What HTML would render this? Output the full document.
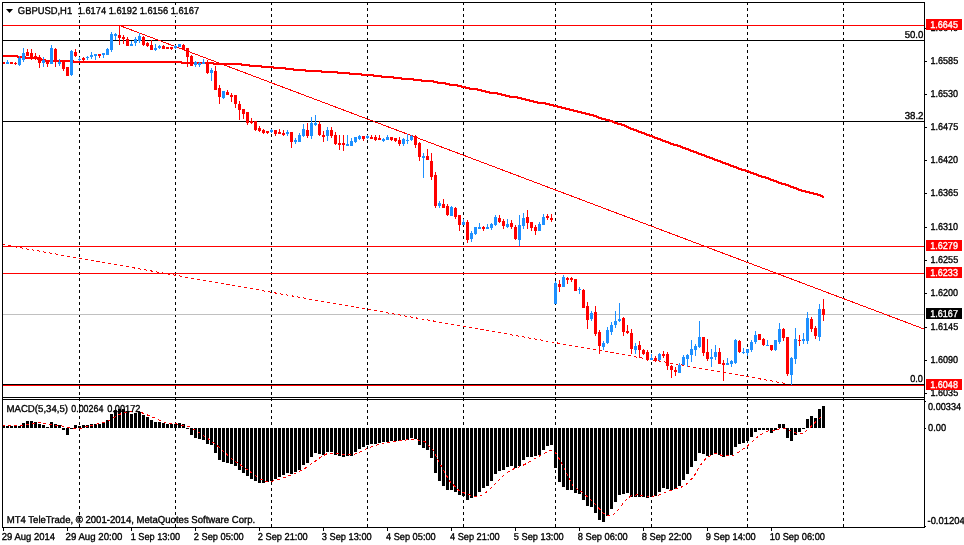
<!DOCTYPE html>
<html><head><meta charset="utf-8"><title>GBPUSD,H1</title>
<style>
html,body{margin:0;padding:0;background:#fff;}
body{width:964px;height:545px;overflow:hidden;}
svg{display:block;}
text{font-family:"Liberation Sans",sans-serif;font-size:9.2px;fill:#000;text-rendering:geometricPrecision;}
.c{shape-rendering:crispEdges;}
</style></head><body>
<svg width="964" height="545" viewBox="0 0 964 545">
<rect width="964" height="545" fill="#fff"/>
<g class="c">
<line x1="79.5" y1="2" x2="79.5" y2="527" stroke="#000" stroke-width="1" stroke-dasharray="3 3"/>
<line x1="175.5" y1="2" x2="175.5" y2="527" stroke="#000" stroke-width="1" stroke-dasharray="3 3"/>
<line x1="271.5" y1="2" x2="271.5" y2="527" stroke="#000" stroke-width="1" stroke-dasharray="3 3"/>
<line x1="367.5" y1="2" x2="367.5" y2="527" stroke="#000" stroke-width="1" stroke-dasharray="3 3"/>
<line x1="463.5" y1="2" x2="463.5" y2="527" stroke="#000" stroke-width="1" stroke-dasharray="3 3"/>
<line x1="555.5" y1="2" x2="555.5" y2="527" stroke="#000" stroke-width="1" stroke-dasharray="3 3"/>
<line x1="651.5" y1="2" x2="651.5" y2="527" stroke="#000" stroke-width="1" stroke-dasharray="3 3"/>
<line x1="747.5" y1="2" x2="747.5" y2="527" stroke="#000" stroke-width="1" stroke-dasharray="3 3"/>
<line x1="843.5" y1="2" x2="843.5" y2="527" stroke="#000" stroke-width="1" stroke-dasharray="3 3"/>
<rect x="2" y="25" width="922" height="1" fill="#ff0000"/>
<rect x="2" y="40" width="922" height="1" fill="#000"/>
<rect x="2" y="121" width="922" height="1" fill="#000"/>
<rect x="2" y="246" width="922" height="1" fill="#ff0000"/>
<rect x="2" y="273" width="922" height="1" fill="#ff0000"/>
<rect x="2" y="314" width="922" height="1" fill="#c0c0c0"/>
<rect x="2" y="384" width="922" height="1" fill="#000"/>
<rect x="2" y="385" width="922" height="1" fill="#ff0000"/>
</g>
<polyline points="2,56 3.5,56 7.5,56 11.5,56 15.5,56 19.5,57 23.5,57 27.5,58 31.5,58 35.5,58 39.5,59 43.5,60 47.5,61 51.5,61 55.5,61 59.5,61 63.5,61 67.5,61 71.5,61 75.5,62 79.5,62 83.5,62 87.5,62 91.5,62 95.5,62 99.5,62 103.5,62 107.5,62 111.5,62 115.5,62 119.5,62 123.5,62 127.5,62 131.5,62 135.5,62 139.5,62 143.5,62 147.5,62 151.5,62 155.5,62 159.5,62 163.5,62 167.5,62 171.5,62 175.5,62 179.5,62 183.5,63 187.5,63 191.5,63 195.5,63 199.5,63 203.5,63 207.5,63 211.5,63 215.5,64 219.5,64 223.5,64 227.5,64 231.5,64 235.5,64 239.5,64 243.5,65 247.5,65 251.5,66 255.5,66 259.5,66 263.5,67 267.5,67 271.5,67 275.5,68 279.5,68 283.5,68 287.5,69 291.5,69 295.5,70 299.5,70 303.5,70 307.5,71 311.5,71 315.5,71 319.5,71 323.5,72 327.5,72 331.5,72 335.5,72 339.5,73 343.5,73 347.5,73 351.5,74 355.5,74 359.5,74 363.5,75 367.5,75 371.5,75 375.5,76 379.5,76 383.5,77 387.5,77 391.5,77 395.5,78 399.5,78 403.5,79 407.5,79 411.5,79 415.5,80 419.5,80 423.5,81 427.5,81 431.5,81 435.5,82 439.5,83 443.5,83 447.5,84 451.5,85 455.5,85 459.5,86 463.5,87 467.5,88 471.5,89 475.5,89 479.5,90 483.5,91 487.5,92 491.5,93 495.5,93 499.5,94 503.5,95 507.5,96 511.5,97 515.5,97 519.5,98 523.5,99 527.5,100 531.5,101 535.5,102 539.5,103 543.5,103 547.5,104 551.5,105 555.5,106 559.5,107 563.5,108 567.5,109 571.5,110 575.5,111 579.5,112 583.5,113 587.5,114 591.5,115 595.5,116 599.5,118 603.5,119 607.5,120 611.5,121 615.5,123 619.5,124 623.5,125 627.5,127 631.5,129 635.5,130 639.5,132 643.5,133 647.5,135 651.5,136 655.5,138 659.5,139 663.5,141 667.5,142 671.5,144 675.5,145 679.5,146 683.5,148 687.5,149 691.5,151 695.5,152 699.5,154 703.5,155 707.5,157 711.5,158 715.5,160 719.5,161 723.5,163 727.5,164 731.5,166 735.5,167 739.5,169 743.5,170 747.5,171 751.5,173 755.5,174 759.5,176 763.5,177 767.5,178 771.5,180 775.5,181 779.5,183 783.5,184 787.5,185 791.5,187 795.5,188 799.5,190 803.5,191 807.5,192 811.5,193 815.5,194 819.5,195 823.5,197 824.4,197" fill="none" stroke="#ff0000" stroke-width="2" class="c"/>
<line x1="119.5" y1="25.5" x2="924" y2="329" stroke="#ff0000" stroke-width="1" class="c"/>
<line x1="2" y1="244.5" x2="787" y2="383.7" stroke="#ff0000" stroke-width="1" stroke-dasharray="3 3" class="c"/>
<g class="c">
<rect x="2" y="62" width="3" height="2" fill="#ff0000"/>
<rect x="7" y="60" width="1" height="4" fill="#1e90ff"/>
<rect x="6" y="62" width="3" height="2" fill="#1e90ff"/>
<rect x="10" y="62" width="3" height="2" fill="#ff0000"/>
<rect x="15" y="62" width="1" height="3" fill="#ff0000"/>
<rect x="14" y="63" width="3" height="1" fill="#ff0000"/>
<rect x="19" y="56" width="1" height="10" fill="#1e90ff"/>
<rect x="18" y="58" width="3" height="7" fill="#1e90ff"/>
<rect x="23" y="48" width="1" height="14" fill="#1e90ff"/>
<rect x="22" y="53" width="3" height="7" fill="#1e90ff"/>
<rect x="27" y="49" width="1" height="7" fill="#ff0000"/>
<rect x="26" y="52" width="3" height="4" fill="#ff0000"/>
<rect x="31" y="49" width="1" height="11" fill="#ff0000"/>
<rect x="30" y="53" width="3" height="4" fill="#ff0000"/>
<rect x="35" y="53" width="1" height="7" fill="#ff0000"/>
<rect x="34" y="56" width="3" height="3" fill="#ff0000"/>
<rect x="39" y="55" width="1" height="13" fill="#ff0000"/>
<rect x="38" y="57" width="3" height="6" fill="#ff0000"/>
<rect x="43" y="57" width="1" height="10" fill="#1e90ff"/>
<rect x="42" y="60" width="3" height="3" fill="#1e90ff"/>
<rect x="47" y="60" width="1" height="7" fill="#ff0000"/>
<rect x="46" y="60" width="3" height="4" fill="#ff0000"/>
<rect x="51" y="45" width="1" height="19" fill="#1e90ff"/>
<rect x="50" y="48" width="3" height="16" fill="#1e90ff"/>
<rect x="55" y="48" width="1" height="19" fill="#ff0000"/>
<rect x="54" y="49" width="3" height="13" fill="#ff0000"/>
<rect x="59" y="59" width="1" height="7" fill="#1e90ff"/>
<rect x="58" y="62" width="3" height="2" fill="#1e90ff"/>
<rect x="63" y="62" width="1" height="9" fill="#ff0000"/>
<rect x="62" y="62" width="3" height="7" fill="#ff0000"/>
<rect x="66" y="67" width="3" height="9" fill="#ff0000"/>
<rect x="71" y="50" width="1" height="26" fill="#1e90ff"/>
<rect x="70" y="51" width="3" height="24" fill="#1e90ff"/>
<rect x="75" y="49" width="1" height="8" fill="#ff0000"/>
<rect x="74" y="52" width="3" height="4" fill="#ff0000"/>
<rect x="79" y="57" width="1" height="4" fill="#1e90ff"/>
<rect x="78" y="59" width="3" height="1" fill="#1e90ff"/>
<rect x="83" y="57" width="1" height="4" fill="#ff0000"/>
<rect x="82" y="58" width="3" height="2" fill="#ff0000"/>
<rect x="87" y="56" width="1" height="4" fill="#1e90ff"/>
<rect x="86" y="57" width="3" height="1" fill="#1e90ff"/>
<rect x="91" y="52" width="1" height="7" fill="#1e90ff"/>
<rect x="90" y="55" width="3" height="2" fill="#1e90ff"/>
<rect x="95" y="54" width="1" height="6" fill="#1e90ff"/>
<rect x="94" y="54" width="3" height="2" fill="#1e90ff"/>
<rect x="99" y="54" width="1" height="4" fill="#ff0000"/>
<rect x="98" y="54" width="3" height="2" fill="#ff0000"/>
<rect x="103" y="53" width="1" height="5" fill="#1e90ff"/>
<rect x="102" y="53" width="3" height="2" fill="#1e90ff"/>
<rect x="107" y="48" width="1" height="7" fill="#1e90ff"/>
<rect x="106" y="49" width="3" height="6" fill="#1e90ff"/>
<rect x="111" y="32" width="1" height="20" fill="#1e90ff"/>
<rect x="110" y="34" width="3" height="16" fill="#1e90ff"/>
<rect x="115" y="33" width="1" height="7" fill="#1e90ff"/>
<rect x="114" y="34" width="3" height="2" fill="#1e90ff"/>
<rect x="119" y="26" width="1" height="19" fill="#ff0000"/>
<rect x="118" y="35" width="3" height="3" fill="#ff0000"/>
<rect x="123" y="35" width="1" height="9" fill="#ff0000"/>
<rect x="122" y="37" width="3" height="2" fill="#ff0000"/>
<rect x="127" y="37" width="1" height="9" fill="#ff0000"/>
<rect x="126" y="39" width="3" height="7" fill="#ff0000"/>
<rect x="131" y="41" width="1" height="5" fill="#1e90ff"/>
<rect x="130" y="44" width="3" height="2" fill="#1e90ff"/>
<rect x="135" y="37" width="1" height="9" fill="#1e90ff"/>
<rect x="134" y="39" width="3" height="4" fill="#1e90ff"/>
<rect x="139" y="33" width="1" height="10" fill="#1e90ff"/>
<rect x="138" y="36" width="3" height="5" fill="#1e90ff"/>
<rect x="143" y="36" width="1" height="10" fill="#ff0000"/>
<rect x="142" y="37" width="3" height="8" fill="#ff0000"/>
<rect x="147" y="42" width="1" height="5" fill="#ff0000"/>
<rect x="146" y="43" width="3" height="3" fill="#ff0000"/>
<rect x="151" y="40" width="1" height="10" fill="#ff0000"/>
<rect x="150" y="45" width="3" height="5" fill="#ff0000"/>
<rect x="155" y="44" width="1" height="7" fill="#1e90ff"/>
<rect x="154" y="48" width="3" height="2" fill="#1e90ff"/>
<rect x="159" y="45" width="1" height="4" fill="#1e90ff"/>
<rect x="158" y="46" width="3" height="2" fill="#1e90ff"/>
<rect x="163" y="45" width="1" height="4" fill="#ff0000"/>
<rect x="162" y="46" width="3" height="3" fill="#ff0000"/>
<rect x="166" y="47" width="3" height="2" fill="#ff0000"/>
<rect x="171" y="47" width="1" height="3" fill="#ff0000"/>
<rect x="170" y="47" width="3" height="2" fill="#ff0000"/>
<rect x="175" y="45" width="1" height="4" fill="#1e90ff"/>
<rect x="174" y="46" width="3" height="2" fill="#1e90ff"/>
<rect x="178" y="44" width="3" height="3" fill="#1e90ff"/>
<rect x="183" y="44" width="1" height="6" fill="#ff0000"/>
<rect x="182" y="45" width="3" height="4" fill="#ff0000"/>
<rect x="187" y="48" width="1" height="19" fill="#ff0000"/>
<rect x="186" y="48" width="3" height="9" fill="#ff0000"/>
<rect x="191" y="55" width="1" height="11" fill="#ff0000"/>
<rect x="190" y="56" width="3" height="10" fill="#ff0000"/>
<rect x="195" y="61" width="1" height="6" fill="#1e90ff"/>
<rect x="194" y="62" width="3" height="3" fill="#1e90ff"/>
<rect x="199" y="62" width="1" height="5" fill="#1e90ff"/>
<rect x="198" y="63" width="3" height="2" fill="#1e90ff"/>
<rect x="203" y="59" width="1" height="5" fill="#1e90ff"/>
<rect x="202" y="62" width="3" height="2" fill="#1e90ff"/>
<rect x="207" y="60" width="1" height="14" fill="#ff0000"/>
<rect x="206" y="63" width="3" height="10" fill="#ff0000"/>
<rect x="211" y="68" width="1" height="13" fill="#1e90ff"/>
<rect x="210" y="70" width="3" height="3" fill="#1e90ff"/>
<rect x="215" y="66" width="1" height="24" fill="#ff0000"/>
<rect x="214" y="71" width="3" height="19" fill="#ff0000"/>
<rect x="219" y="85" width="1" height="19" fill="#ff0000"/>
<rect x="218" y="88" width="3" height="9" fill="#ff0000"/>
<rect x="223" y="91" width="1" height="8" fill="#1e90ff"/>
<rect x="222" y="91" width="3" height="7" fill="#1e90ff"/>
<rect x="227" y="90" width="1" height="5" fill="#ff0000"/>
<rect x="226" y="92" width="3" height="3" fill="#ff0000"/>
<rect x="231" y="93" width="1" height="9" fill="#ff0000"/>
<rect x="230" y="95" width="3" height="2" fill="#ff0000"/>
<rect x="235" y="95" width="1" height="13" fill="#ff0000"/>
<rect x="234" y="95" width="3" height="9" fill="#ff0000"/>
<rect x="239" y="101" width="1" height="19" fill="#ff0000"/>
<rect x="238" y="104" width="3" height="6" fill="#ff0000"/>
<rect x="243" y="109" width="1" height="10" fill="#ff0000"/>
<rect x="242" y="109" width="3" height="5" fill="#ff0000"/>
<rect x="247" y="112" width="1" height="13" fill="#ff0000"/>
<rect x="246" y="112" width="3" height="11" fill="#ff0000"/>
<rect x="251" y="118" width="1" height="6" fill="#ff0000"/>
<rect x="250" y="121" width="3" height="2" fill="#ff0000"/>
<rect x="255" y="121" width="1" height="10" fill="#ff0000"/>
<rect x="254" y="121" width="3" height="9" fill="#ff0000"/>
<rect x="259" y="126" width="1" height="6" fill="#ff0000"/>
<rect x="258" y="128" width="3" height="3" fill="#ff0000"/>
<rect x="263" y="129" width="1" height="5" fill="#ff0000"/>
<rect x="262" y="130" width="3" height="3" fill="#ff0000"/>
<rect x="267" y="131" width="1" height="3" fill="#ff0000"/>
<rect x="266" y="131" width="3" height="2" fill="#ff0000"/>
<rect x="271" y="129" width="1" height="4" fill="#1e90ff"/>
<rect x="270" y="130" width="3" height="2" fill="#1e90ff"/>
<rect x="275" y="130" width="1" height="6" fill="#ff0000"/>
<rect x="274" y="130" width="3" height="4" fill="#ff0000"/>
<rect x="279" y="129" width="1" height="5" fill="#ff0000"/>
<rect x="278" y="132" width="3" height="2" fill="#ff0000"/>
<rect x="283" y="130" width="1" height="6" fill="#ff0000"/>
<rect x="282" y="133" width="3" height="2" fill="#ff0000"/>
<rect x="287" y="130" width="1" height="6" fill="#1e90ff"/>
<rect x="286" y="132" width="3" height="2" fill="#1e90ff"/>
<rect x="291" y="132" width="1" height="16" fill="#ff0000"/>
<rect x="290" y="132" width="3" height="10" fill="#ff0000"/>
<rect x="295" y="138" width="1" height="6" fill="#1e90ff"/>
<rect x="294" y="140" width="3" height="2" fill="#1e90ff"/>
<rect x="299" y="133" width="1" height="9" fill="#1e90ff"/>
<rect x="298" y="135" width="3" height="7" fill="#1e90ff"/>
<rect x="303" y="124" width="1" height="13" fill="#1e90ff"/>
<rect x="302" y="129" width="3" height="7" fill="#1e90ff"/>
<rect x="307" y="123" width="1" height="15" fill="#ff0000"/>
<rect x="306" y="130" width="3" height="6" fill="#ff0000"/>
<rect x="311" y="117" width="1" height="22" fill="#1e90ff"/>
<rect x="310" y="123" width="3" height="13" fill="#1e90ff"/>
<rect x="315" y="115" width="1" height="11" fill="#1e90ff"/>
<rect x="314" y="123" width="3" height="2" fill="#1e90ff"/>
<rect x="319" y="121" width="1" height="15" fill="#ff0000"/>
<rect x="318" y="124" width="3" height="11" fill="#ff0000"/>
<rect x="323" y="131" width="1" height="11" fill="#ff0000"/>
<rect x="322" y="135" width="3" height="2" fill="#ff0000"/>
<rect x="327" y="127" width="1" height="14" fill="#1e90ff"/>
<rect x="326" y="130" width="3" height="6" fill="#1e90ff"/>
<rect x="331" y="127" width="1" height="11" fill="#ff0000"/>
<rect x="330" y="130" width="3" height="6" fill="#ff0000"/>
<rect x="335" y="132" width="1" height="13" fill="#ff0000"/>
<rect x="334" y="135" width="3" height="9" fill="#ff0000"/>
<rect x="339" y="135" width="1" height="15" fill="#ff0000"/>
<rect x="338" y="143" width="3" height="2" fill="#ff0000"/>
<rect x="343" y="135" width="1" height="16" fill="#ff0000"/>
<rect x="342" y="143" width="3" height="2" fill="#ff0000"/>
<rect x="347" y="135" width="1" height="11" fill="#1e90ff"/>
<rect x="346" y="144" width="3" height="2" fill="#1e90ff"/>
<rect x="351" y="138" width="1" height="8" fill="#1e90ff"/>
<rect x="350" y="141" width="3" height="5" fill="#1e90ff"/>
<rect x="355" y="137" width="1" height="6" fill="#1e90ff"/>
<rect x="354" y="137" width="3" height="5" fill="#1e90ff"/>
<rect x="359" y="135" width="1" height="5" fill="#1e90ff"/>
<rect x="358" y="136" width="3" height="3" fill="#1e90ff"/>
<rect x="363" y="136" width="1" height="5" fill="#ff0000"/>
<rect x="362" y="136" width="3" height="3" fill="#ff0000"/>
<rect x="367" y="135" width="1" height="4" fill="#1e90ff"/>
<rect x="366" y="136" width="3" height="2" fill="#1e90ff"/>
<rect x="371" y="135" width="1" height="4" fill="#ff0000"/>
<rect x="370" y="137" width="3" height="2" fill="#ff0000"/>
<rect x="375" y="135" width="1" height="6" fill="#ff0000"/>
<rect x="374" y="137" width="3" height="3" fill="#ff0000"/>
<rect x="379" y="135" width="1" height="5" fill="#ff0000"/>
<rect x="378" y="138" width="3" height="2" fill="#ff0000"/>
<rect x="383" y="138" width="1" height="4" fill="#1e90ff"/>
<rect x="382" y="139" width="3" height="2" fill="#1e90ff"/>
<rect x="387" y="135" width="1" height="5" fill="#1e90ff"/>
<rect x="386" y="137" width="3" height="3" fill="#1e90ff"/>
<rect x="391" y="137" width="1" height="4" fill="#ff0000"/>
<rect x="390" y="137" width="3" height="3" fill="#ff0000"/>
<rect x="395" y="138" width="1" height="4" fill="#ff0000"/>
<rect x="394" y="138" width="3" height="3" fill="#ff0000"/>
<rect x="399" y="137" width="1" height="9" fill="#ff0000"/>
<rect x="398" y="140" width="3" height="4" fill="#ff0000"/>
<rect x="403" y="138" width="1" height="8" fill="#1e90ff"/>
<rect x="402" y="139" width="3" height="5" fill="#1e90ff"/>
<rect x="407" y="134" width="1" height="10" fill="#1e90ff"/>
<rect x="406" y="140" width="3" height="1" fill="#1e90ff"/>
<rect x="411" y="135" width="1" height="6" fill="#1e90ff"/>
<rect x="410" y="136" width="3" height="4" fill="#1e90ff"/>
<rect x="415" y="135" width="1" height="13" fill="#ff0000"/>
<rect x="414" y="136" width="3" height="9" fill="#ff0000"/>
<rect x="419" y="142" width="1" height="19" fill="#ff0000"/>
<rect x="418" y="143" width="3" height="14" fill="#ff0000"/>
<rect x="423" y="153" width="1" height="25" fill="#1e90ff"/>
<rect x="422" y="156" width="3" height="2" fill="#1e90ff"/>
<rect x="427" y="149" width="1" height="11" fill="#ff0000"/>
<rect x="426" y="156" width="3" height="4" fill="#ff0000"/>
<rect x="431" y="153" width="1" height="27" fill="#ff0000"/>
<rect x="430" y="161" width="3" height="16" fill="#ff0000"/>
<rect x="435" y="172" width="1" height="36" fill="#ff0000"/>
<rect x="434" y="175" width="3" height="31" fill="#ff0000"/>
<rect x="439" y="201" width="1" height="7" fill="#1e90ff"/>
<rect x="438" y="203" width="3" height="3" fill="#1e90ff"/>
<rect x="443" y="199" width="1" height="9" fill="#ff0000"/>
<rect x="442" y="204" width="3" height="4" fill="#ff0000"/>
<rect x="447" y="204" width="1" height="12" fill="#ff0000"/>
<rect x="446" y="206" width="3" height="9" fill="#ff0000"/>
<rect x="451" y="206" width="1" height="10" fill="#1e90ff"/>
<rect x="450" y="207" width="3" height="9" fill="#1e90ff"/>
<rect x="455" y="207" width="1" height="12" fill="#ff0000"/>
<rect x="454" y="208" width="3" height="9" fill="#ff0000"/>
<rect x="459" y="215" width="1" height="16" fill="#ff0000"/>
<rect x="458" y="215" width="3" height="10" fill="#ff0000"/>
<rect x="463" y="219" width="1" height="6" fill="#1e90ff"/>
<rect x="462" y="222" width="3" height="3" fill="#1e90ff"/>
<rect x="467" y="220" width="1" height="23" fill="#ff0000"/>
<rect x="466" y="222" width="3" height="18" fill="#ff0000"/>
<rect x="471" y="231" width="1" height="11" fill="#1e90ff"/>
<rect x="470" y="233" width="3" height="6" fill="#1e90ff"/>
<rect x="475" y="227" width="1" height="8" fill="#1e90ff"/>
<rect x="474" y="227" width="3" height="7" fill="#1e90ff"/>
<rect x="479" y="223" width="1" height="6" fill="#1e90ff"/>
<rect x="478" y="227" width="3" height="2" fill="#1e90ff"/>
<rect x="483" y="226" width="1" height="5" fill="#ff0000"/>
<rect x="482" y="227" width="3" height="2" fill="#ff0000"/>
<rect x="487" y="224" width="1" height="5" fill="#1e90ff"/>
<rect x="486" y="227" width="3" height="2" fill="#1e90ff"/>
<rect x="491" y="223" width="1" height="7" fill="#1e90ff"/>
<rect x="490" y="224" width="3" height="4" fill="#1e90ff"/>
<rect x="495" y="215" width="1" height="11" fill="#1e90ff"/>
<rect x="494" y="217" width="3" height="8" fill="#1e90ff"/>
<rect x="499" y="215" width="1" height="8" fill="#ff0000"/>
<rect x="498" y="218" width="3" height="4" fill="#ff0000"/>
<rect x="503" y="219" width="1" height="10" fill="#ff0000"/>
<rect x="502" y="221" width="3" height="5" fill="#ff0000"/>
<rect x="507" y="219" width="1" height="9" fill="#1e90ff"/>
<rect x="506" y="224" width="3" height="3" fill="#1e90ff"/>
<rect x="511" y="220" width="1" height="9" fill="#ff0000"/>
<rect x="510" y="223" width="3" height="4" fill="#ff0000"/>
<rect x="515" y="225" width="1" height="15" fill="#ff0000"/>
<rect x="514" y="227" width="3" height="12" fill="#ff0000"/>
<rect x="519" y="215" width="1" height="31" fill="#1e90ff"/>
<rect x="518" y="225" width="3" height="15" fill="#1e90ff"/>
<rect x="523" y="213" width="1" height="16" fill="#1e90ff"/>
<rect x="522" y="218" width="3" height="8" fill="#1e90ff"/>
<rect x="527" y="210" width="1" height="19" fill="#ff0000"/>
<rect x="526" y="217" width="3" height="6" fill="#ff0000"/>
<rect x="531" y="222" width="1" height="9" fill="#ff0000"/>
<rect x="530" y="222" width="3" height="6" fill="#ff0000"/>
<rect x="535" y="225" width="1" height="10" fill="#ff0000"/>
<rect x="534" y="227" width="3" height="4" fill="#ff0000"/>
<rect x="539" y="222" width="1" height="9" fill="#1e90ff"/>
<rect x="538" y="224" width="3" height="7" fill="#1e90ff"/>
<rect x="543" y="214" width="1" height="11" fill="#1e90ff"/>
<rect x="542" y="217" width="3" height="8" fill="#1e90ff"/>
<rect x="547" y="214" width="1" height="6" fill="#ff0000"/>
<rect x="546" y="216" width="3" height="2" fill="#ff0000"/>
<rect x="551" y="214" width="1" height="8" fill="#ff0000"/>
<rect x="550" y="218" width="3" height="2" fill="#ff0000"/>
<rect x="555" y="281" width="1" height="23" fill="#1e90ff"/>
<rect x="554" y="283" width="3" height="21" fill="#1e90ff"/>
<rect x="559" y="280" width="1" height="12" fill="#ff0000"/>
<rect x="558" y="284" width="3" height="3" fill="#ff0000"/>
<rect x="563" y="275" width="1" height="12" fill="#1e90ff"/>
<rect x="562" y="277" width="3" height="10" fill="#1e90ff"/>
<rect x="567" y="277" width="1" height="7" fill="#ff0000"/>
<rect x="566" y="278" width="3" height="2" fill="#ff0000"/>
<rect x="571" y="277" width="1" height="5" fill="#ff0000"/>
<rect x="570" y="278" width="3" height="2" fill="#ff0000"/>
<rect x="574" y="279" width="3" height="12" fill="#ff0000"/>
<rect x="579" y="287" width="1" height="7" fill="#1e90ff"/>
<rect x="578" y="289" width="3" height="1" fill="#1e90ff"/>
<rect x="583" y="289" width="1" height="19" fill="#ff0000"/>
<rect x="582" y="290" width="3" height="18" fill="#ff0000"/>
<rect x="587" y="302" width="1" height="27" fill="#ff0000"/>
<rect x="586" y="306" width="3" height="14" fill="#ff0000"/>
<rect x="591" y="311" width="1" height="10" fill="#1e90ff"/>
<rect x="590" y="313" width="3" height="6" fill="#1e90ff"/>
<rect x="595" y="306" width="1" height="30" fill="#ff0000"/>
<rect x="594" y="312" width="3" height="22" fill="#ff0000"/>
<rect x="599" y="330" width="1" height="24" fill="#ff0000"/>
<rect x="598" y="332" width="3" height="14" fill="#ff0000"/>
<rect x="603" y="341" width="1" height="9" fill="#1e90ff"/>
<rect x="602" y="343" width="3" height="4" fill="#1e90ff"/>
<rect x="607" y="327" width="1" height="17" fill="#1e90ff"/>
<rect x="606" y="330" width="3" height="13" fill="#1e90ff"/>
<rect x="611" y="322" width="1" height="13" fill="#1e90ff"/>
<rect x="610" y="325" width="3" height="7" fill="#1e90ff"/>
<rect x="615" y="311" width="1" height="17" fill="#1e90ff"/>
<rect x="614" y="321" width="3" height="4" fill="#1e90ff"/>
<rect x="619" y="303" width="1" height="19" fill="#1e90ff"/>
<rect x="618" y="319" width="3" height="2" fill="#1e90ff"/>
<rect x="623" y="317" width="1" height="19" fill="#ff0000"/>
<rect x="622" y="318" width="3" height="14" fill="#ff0000"/>
<rect x="627" y="325" width="1" height="9" fill="#ff0000"/>
<rect x="626" y="331" width="3" height="2" fill="#ff0000"/>
<rect x="631" y="329" width="1" height="25" fill="#ff0000"/>
<rect x="630" y="333" width="3" height="16" fill="#ff0000"/>
<rect x="635" y="343" width="1" height="11" fill="#1e90ff"/>
<rect x="634" y="346" width="3" height="4" fill="#1e90ff"/>
<rect x="639" y="341" width="1" height="17" fill="#ff0000"/>
<rect x="638" y="345" width="3" height="5" fill="#ff0000"/>
<rect x="643" y="349" width="1" height="6" fill="#ff0000"/>
<rect x="642" y="350" width="3" height="4" fill="#ff0000"/>
<rect x="647" y="350" width="1" height="11" fill="#ff0000"/>
<rect x="646" y="352" width="3" height="8" fill="#ff0000"/>
<rect x="651" y="354" width="1" height="6" fill="#1e90ff"/>
<rect x="650" y="358" width="3" height="2" fill="#1e90ff"/>
<rect x="655" y="356" width="1" height="6" fill="#ff0000"/>
<rect x="654" y="358" width="3" height="3" fill="#ff0000"/>
<rect x="659" y="353" width="1" height="8" fill="#1e90ff"/>
<rect x="658" y="354" width="3" height="6" fill="#1e90ff"/>
<rect x="663" y="351" width="1" height="7" fill="#ff0000"/>
<rect x="662" y="354" width="3" height="2" fill="#ff0000"/>
<rect x="667" y="352" width="1" height="18" fill="#ff0000"/>
<rect x="666" y="354" width="3" height="12" fill="#ff0000"/>
<rect x="671" y="365" width="1" height="13" fill="#ff0000"/>
<rect x="670" y="366" width="3" height="4" fill="#ff0000"/>
<rect x="675" y="367" width="1" height="9" fill="#ff0000"/>
<rect x="674" y="370" width="3" height="2" fill="#ff0000"/>
<rect x="679" y="363" width="1" height="10" fill="#1e90ff"/>
<rect x="678" y="365" width="3" height="8" fill="#1e90ff"/>
<rect x="683" y="355" width="1" height="10" fill="#1e90ff"/>
<rect x="682" y="357" width="3" height="8" fill="#1e90ff"/>
<rect x="687" y="354" width="1" height="13" fill="#1e90ff"/>
<rect x="686" y="355" width="3" height="4" fill="#1e90ff"/>
<rect x="691" y="340" width="1" height="22" fill="#1e90ff"/>
<rect x="690" y="349" width="3" height="6" fill="#1e90ff"/>
<rect x="695" y="344" width="1" height="12" fill="#1e90ff"/>
<rect x="694" y="346" width="3" height="4" fill="#1e90ff"/>
<rect x="699" y="321" width="1" height="27" fill="#1e90ff"/>
<rect x="698" y="337" width="3" height="10" fill="#1e90ff"/>
<rect x="703" y="337" width="1" height="19" fill="#ff0000"/>
<rect x="702" y="337" width="3" height="16" fill="#ff0000"/>
<rect x="707" y="339" width="1" height="22" fill="#ff0000"/>
<rect x="706" y="352" width="3" height="7" fill="#ff0000"/>
<rect x="711" y="349" width="1" height="18" fill="#1e90ff"/>
<rect x="710" y="357" width="3" height="2" fill="#1e90ff"/>
<rect x="715" y="345" width="1" height="15" fill="#1e90ff"/>
<rect x="714" y="352" width="3" height="5" fill="#1e90ff"/>
<rect x="719" y="348" width="1" height="16" fill="#ff0000"/>
<rect x="718" y="352" width="3" height="12" fill="#ff0000"/>
<rect x="723" y="360" width="1" height="21" fill="#ff0000"/>
<rect x="722" y="363" width="3" height="2" fill="#ff0000"/>
<rect x="727" y="358" width="1" height="7" fill="#1e90ff"/>
<rect x="726" y="363" width="3" height="2" fill="#1e90ff"/>
<rect x="731" y="360" width="1" height="7" fill="#1e90ff"/>
<rect x="730" y="361" width="3" height="3" fill="#1e90ff"/>
<rect x="735" y="339" width="1" height="25" fill="#1e90ff"/>
<rect x="734" y="340" width="3" height="23" fill="#1e90ff"/>
<rect x="739" y="340" width="1" height="13" fill="#ff0000"/>
<rect x="738" y="341" width="3" height="11" fill="#ff0000"/>
<rect x="743" y="348" width="1" height="6" fill="#1e90ff"/>
<rect x="742" y="352" width="3" height="1" fill="#1e90ff"/>
<rect x="747" y="349" width="1" height="7" fill="#1e90ff"/>
<rect x="746" y="349" width="3" height="4" fill="#1e90ff"/>
<rect x="751" y="340" width="1" height="12" fill="#1e90ff"/>
<rect x="750" y="342" width="3" height="8" fill="#1e90ff"/>
<rect x="755" y="331" width="1" height="13" fill="#1e90ff"/>
<rect x="754" y="335" width="3" height="7" fill="#1e90ff"/>
<rect x="758" y="334" width="3" height="6" fill="#ff0000"/>
<rect x="763" y="338" width="1" height="8" fill="#ff0000"/>
<rect x="762" y="339" width="3" height="6" fill="#ff0000"/>
<rect x="767" y="340" width="1" height="6" fill="#1e90ff"/>
<rect x="766" y="345" width="3" height="1" fill="#1e90ff"/>
<rect x="771" y="345" width="1" height="6" fill="#ff0000"/>
<rect x="770" y="345" width="3" height="5" fill="#ff0000"/>
<rect x="775" y="340" width="1" height="11" fill="#1e90ff"/>
<rect x="774" y="340" width="3" height="10" fill="#1e90ff"/>
<rect x="779" y="323" width="1" height="21" fill="#1e90ff"/>
<rect x="778" y="329" width="3" height="13" fill="#1e90ff"/>
<rect x="783" y="328" width="1" height="13" fill="#ff0000"/>
<rect x="782" y="329" width="3" height="9" fill="#ff0000"/>
<rect x="787" y="337" width="1" height="39" fill="#ff0000"/>
<rect x="786" y="337" width="3" height="37" fill="#ff0000"/>
<rect x="791" y="357" width="1" height="28" fill="#1e90ff"/>
<rect x="790" y="358" width="3" height="17" fill="#1e90ff"/>
<rect x="795" y="328" width="1" height="36" fill="#1e90ff"/>
<rect x="794" y="339" width="3" height="20" fill="#1e90ff"/>
<rect x="799" y="335" width="1" height="11" fill="#ff0000"/>
<rect x="798" y="340" width="3" height="1" fill="#ff0000"/>
<rect x="803" y="333" width="1" height="11" fill="#1e90ff"/>
<rect x="802" y="339" width="3" height="2" fill="#1e90ff"/>
<rect x="807" y="312" width="1" height="32" fill="#1e90ff"/>
<rect x="806" y="318" width="3" height="23" fill="#1e90ff"/>
<rect x="811" y="317" width="1" height="15" fill="#ff0000"/>
<rect x="810" y="319" width="3" height="10" fill="#ff0000"/>
<rect x="815" y="326" width="1" height="13" fill="#ff0000"/>
<rect x="814" y="328" width="3" height="8" fill="#ff0000"/>
<rect x="819" y="304" width="1" height="37" fill="#1e90ff"/>
<rect x="818" y="309" width="3" height="28" fill="#1e90ff"/>
<rect x="823" y="299" width="1" height="22" fill="#ff0000"/>
<rect x="822" y="309" width="3" height="6" fill="#ff0000"/>
</g>
<g class="c">
<rect x="2" y="426" width="3" height="2" fill="#000"/>
<rect x="6" y="426" width="3" height="2" fill="#000"/>
<rect x="10" y="426" width="3" height="2" fill="#000"/>
<rect x="14" y="426" width="3" height="2" fill="#000"/>
<rect x="18" y="426" width="3" height="2" fill="#000"/>
<rect x="22" y="423" width="3" height="5" fill="#000"/>
<rect x="26" y="421" width="3" height="7" fill="#000"/>
<rect x="30" y="421" width="3" height="7" fill="#000"/>
<rect x="34" y="422" width="3" height="6" fill="#000"/>
<rect x="38" y="424" width="3" height="4" fill="#000"/>
<rect x="42" y="425" width="3" height="3" fill="#000"/>
<rect x="46" y="427" width="3" height="1" fill="#000"/>
<rect x="50" y="422" width="3" height="6" fill="#000"/>
<rect x="54" y="424" width="3" height="4" fill="#000"/>
<rect x="58" y="425" width="3" height="3" fill="#000"/>
<rect x="62" y="428" width="3" height="2" fill="#000"/>
<rect x="66" y="428" width="3" height="7" fill="#000"/>
<rect x="70" y="428" width="3" height="1" fill="#000"/>
<rect x="74" y="425" width="3" height="3" fill="#000"/>
<rect x="78" y="426" width="3" height="2" fill="#000"/>
<rect x="82" y="425" width="3" height="3" fill="#000"/>
<rect x="86" y="425" width="3" height="3" fill="#000"/>
<rect x="90" y="424" width="3" height="4" fill="#000"/>
<rect x="94" y="424" width="3" height="4" fill="#000"/>
<rect x="98" y="424" width="3" height="4" fill="#000"/>
<rect x="102" y="422" width="3" height="6" fill="#000"/>
<rect x="106" y="420" width="3" height="8" fill="#000"/>
<rect x="110" y="414" width="3" height="14" fill="#000"/>
<rect x="114" y="410" width="3" height="18" fill="#000"/>
<rect x="118" y="409" width="3" height="19" fill="#000"/>
<rect x="122" y="409" width="3" height="19" fill="#000"/>
<rect x="126" y="411" width="3" height="17" fill="#000"/>
<rect x="130" y="414" width="3" height="14" fill="#000"/>
<rect x="134" y="413" width="3" height="15" fill="#000"/>
<rect x="138" y="412" width="3" height="16" fill="#000"/>
<rect x="142" y="415" width="3" height="13" fill="#000"/>
<rect x="146" y="417" width="3" height="11" fill="#000"/>
<rect x="150" y="420" width="3" height="8" fill="#000"/>
<rect x="154" y="422" width="3" height="6" fill="#000"/>
<rect x="158" y="422" width="3" height="6" fill="#000"/>
<rect x="162" y="423" width="3" height="5" fill="#000"/>
<rect x="166" y="424" width="3" height="4" fill="#000"/>
<rect x="170" y="424" width="3" height="4" fill="#000"/>
<rect x="174" y="424" width="3" height="4" fill="#000"/>
<rect x="178" y="423" width="3" height="5" fill="#000"/>
<rect x="182" y="424" width="3" height="4" fill="#000"/>
<rect x="186" y="428" width="3" height="1" fill="#000"/>
<rect x="190" y="428" width="3" height="7" fill="#000"/>
<rect x="194" y="428" width="3" height="10" fill="#000"/>
<rect x="198" y="428" width="3" height="11" fill="#000"/>
<rect x="202" y="428" width="3" height="12" fill="#000"/>
<rect x="206" y="428" width="3" height="16" fill="#000"/>
<rect x="210" y="428" width="3" height="17" fill="#000"/>
<rect x="214" y="428" width="3" height="25" fill="#000"/>
<rect x="218" y="428" width="3" height="32" fill="#000"/>
<rect x="222" y="428" width="3" height="34" fill="#000"/>
<rect x="226" y="428" width="3" height="35" fill="#000"/>
<rect x="230" y="428" width="3" height="36" fill="#000"/>
<rect x="234" y="428" width="3" height="38" fill="#000"/>
<rect x="238" y="428" width="3" height="42" fill="#000"/>
<rect x="242" y="428" width="3" height="45" fill="#000"/>
<rect x="246" y="428" width="3" height="48" fill="#000"/>
<rect x="250" y="428" width="3" height="51" fill="#000"/>
<rect x="254" y="428" width="3" height="53" fill="#000"/>
<rect x="258" y="428" width="3" height="55" fill="#000"/>
<rect x="262" y="428" width="3" height="55" fill="#000"/>
<rect x="266" y="428" width="3" height="54" fill="#000"/>
<rect x="270" y="428" width="3" height="53" fill="#000"/>
<rect x="274" y="428" width="3" height="51" fill="#000"/>
<rect x="278" y="428" width="3" height="49" fill="#000"/>
<rect x="282" y="428" width="3" height="47" fill="#000"/>
<rect x="286" y="428" width="3" height="45" fill="#000"/>
<rect x="290" y="428" width="3" height="46" fill="#000"/>
<rect x="294" y="428" width="3" height="44" fill="#000"/>
<rect x="298" y="428" width="3" height="42" fill="#000"/>
<rect x="302" y="428" width="3" height="37" fill="#000"/>
<rect x="306" y="428" width="3" height="35" fill="#000"/>
<rect x="310" y="428" width="3" height="29" fill="#000"/>
<rect x="314" y="428" width="3" height="25" fill="#000"/>
<rect x="318" y="428" width="3" height="26" fill="#000"/>
<rect x="322" y="428" width="3" height="27" fill="#000"/>
<rect x="326" y="428" width="3" height="24" fill="#000"/>
<rect x="330" y="428" width="3" height="24" fill="#000"/>
<rect x="334" y="428" width="3" height="27" fill="#000"/>
<rect x="338" y="428" width="3" height="28" fill="#000"/>
<rect x="342" y="428" width="3" height="29" fill="#000"/>
<rect x="346" y="428" width="3" height="28" fill="#000"/>
<rect x="350" y="428" width="3" height="28" fill="#000"/>
<rect x="354" y="428" width="3" height="24" fill="#000"/>
<rect x="358" y="428" width="3" height="21" fill="#000"/>
<rect x="362" y="428" width="3" height="19" fill="#000"/>
<rect x="366" y="428" width="3" height="17" fill="#000"/>
<rect x="370" y="428" width="3" height="16" fill="#000"/>
<rect x="374" y="428" width="3" height="16" fill="#000"/>
<rect x="378" y="428" width="3" height="15" fill="#000"/>
<rect x="382" y="428" width="3" height="14" fill="#000"/>
<rect x="386" y="428" width="3" height="14" fill="#000"/>
<rect x="390" y="428" width="3" height="13" fill="#000"/>
<rect x="394" y="428" width="3" height="13" fill="#000"/>
<rect x="398" y="428" width="3" height="13" fill="#000"/>
<rect x="402" y="428" width="3" height="12" fill="#000"/>
<rect x="406" y="428" width="3" height="12" fill="#000"/>
<rect x="410" y="428" width="3" height="10" fill="#000"/>
<rect x="414" y="428" width="3" height="11" fill="#000"/>
<rect x="418" y="428" width="3" height="17" fill="#000"/>
<rect x="422" y="428" width="3" height="20" fill="#000"/>
<rect x="426" y="428" width="3" height="22" fill="#000"/>
<rect x="430" y="428" width="3" height="30" fill="#000"/>
<rect x="434" y="428" width="3" height="45" fill="#000"/>
<rect x="438" y="428" width="3" height="53" fill="#000"/>
<rect x="442" y="428" width="3" height="58" fill="#000"/>
<rect x="446" y="428" width="3" height="62" fill="#000"/>
<rect x="450" y="428" width="3" height="62" fill="#000"/>
<rect x="454" y="428" width="3" height="64" fill="#000"/>
<rect x="458" y="428" width="3" height="67" fill="#000"/>
<rect x="462" y="428" width="3" height="68" fill="#000"/>
<rect x="466" y="428" width="3" height="72" fill="#000"/>
<rect x="470" y="428" width="3" height="70" fill="#000"/>
<rect x="474" y="428" width="3" height="68" fill="#000"/>
<rect x="478" y="428" width="3" height="64" fill="#000"/>
<rect x="482" y="428" width="3" height="60" fill="#000"/>
<rect x="486" y="428" width="3" height="58" fill="#000"/>
<rect x="490" y="428" width="3" height="53" fill="#000"/>
<rect x="494" y="428" width="3" height="46" fill="#000"/>
<rect x="498" y="428" width="3" height="43" fill="#000"/>
<rect x="502" y="428" width="3" height="42" fill="#000"/>
<rect x="506" y="428" width="3" height="39" fill="#000"/>
<rect x="510" y="428" width="3" height="38" fill="#000"/>
<rect x="514" y="428" width="3" height="40" fill="#000"/>
<rect x="518" y="428" width="3" height="38" fill="#000"/>
<rect x="522" y="428" width="3" height="32" fill="#000"/>
<rect x="526" y="428" width="3" height="29" fill="#000"/>
<rect x="530" y="428" width="3" height="29" fill="#000"/>
<rect x="534" y="428" width="3" height="28" fill="#000"/>
<rect x="538" y="428" width="3" height="27" fill="#000"/>
<rect x="542" y="428" width="3" height="22" fill="#000"/>
<rect x="546" y="428" width="3" height="18" fill="#000"/>
<rect x="550" y="428" width="3" height="17" fill="#000"/>
<rect x="554" y="428" width="3" height="40" fill="#000"/>
<rect x="558" y="428" width="3" height="54" fill="#000"/>
<rect x="562" y="428" width="3" height="59" fill="#000"/>
<rect x="566" y="428" width="3" height="62" fill="#000"/>
<rect x="570" y="428" width="3" height="62" fill="#000"/>
<rect x="574" y="428" width="3" height="65" fill="#000"/>
<rect x="578" y="428" width="3" height="66" fill="#000"/>
<rect x="582" y="428" width="3" height="72" fill="#000"/>
<rect x="586" y="428" width="3" height="78" fill="#000"/>
<rect x="590" y="428" width="3" height="79" fill="#000"/>
<rect x="594" y="428" width="3" height="85" fill="#000"/>
<rect x="598" y="428" width="3" height="92" fill="#000"/>
<rect x="602" y="428" width="3" height="94" fill="#000"/>
<rect x="606" y="428" width="3" height="88" fill="#000"/>
<rect x="610" y="428" width="3" height="81" fill="#000"/>
<rect x="614" y="428" width="3" height="74" fill="#000"/>
<rect x="618" y="428" width="3" height="67" fill="#000"/>
<rect x="622" y="428" width="3" height="66" fill="#000"/>
<rect x="626" y="428" width="3" height="65" fill="#000"/>
<rect x="630" y="428" width="3" height="69" fill="#000"/>
<rect x="634" y="428" width="3" height="69" fill="#000"/>
<rect x="638" y="428" width="3" height="69" fill="#000"/>
<rect x="642" y="428" width="3" height="69" fill="#000"/>
<rect x="646" y="428" width="3" height="70" fill="#000"/>
<rect x="650" y="428" width="3" height="69" fill="#000"/>
<rect x="654" y="428" width="3" height="68" fill="#000"/>
<rect x="658" y="428" width="3" height="64" fill="#000"/>
<rect x="662" y="428" width="3" height="60" fill="#000"/>
<rect x="666" y="428" width="3" height="61" fill="#000"/>
<rect x="670" y="428" width="3" height="62" fill="#000"/>
<rect x="674" y="428" width="3" height="61" fill="#000"/>
<rect x="678" y="428" width="3" height="58" fill="#000"/>
<rect x="682" y="428" width="3" height="52" fill="#000"/>
<rect x="686" y="428" width="3" height="46" fill="#000"/>
<rect x="690" y="428" width="3" height="39" fill="#000"/>
<rect x="694" y="428" width="3" height="33" fill="#000"/>
<rect x="698" y="428" width="3" height="25" fill="#000"/>
<rect x="702" y="428" width="3" height="26" fill="#000"/>
<rect x="706" y="428" width="3" height="28" fill="#000"/>
<rect x="710" y="428" width="3" height="27" fill="#000"/>
<rect x="714" y="428" width="3" height="26" fill="#000"/>
<rect x="718" y="428" width="3" height="27" fill="#000"/>
<rect x="722" y="428" width="3" height="29" fill="#000"/>
<rect x="726" y="428" width="3" height="28" fill="#000"/>
<rect x="730" y="428" width="3" height="27" fill="#000"/>
<rect x="734" y="428" width="3" height="19" fill="#000"/>
<rect x="738" y="428" width="3" height="16" fill="#000"/>
<rect x="742" y="428" width="3" height="15" fill="#000"/>
<rect x="746" y="428" width="3" height="13" fill="#000"/>
<rect x="750" y="428" width="3" height="9" fill="#000"/>
<rect x="754" y="428" width="3" height="4" fill="#000"/>
<rect x="758" y="428" width="3" height="2" fill="#000"/>
<rect x="762" y="428" width="3" height="2" fill="#000"/>
<rect x="766" y="428" width="3" height="2" fill="#000"/>
<rect x="770" y="428" width="3" height="5" fill="#000"/>
<rect x="774" y="428" width="3" height="2" fill="#000"/>
<rect x="778" y="424" width="3" height="4" fill="#000"/>
<rect x="782" y="424" width="3" height="4" fill="#000"/>
<rect x="786" y="428" width="3" height="10" fill="#000"/>
<rect x="790" y="428" width="3" height="13" fill="#000"/>
<rect x="794" y="428" width="3" height="7" fill="#000"/>
<rect x="798" y="428" width="3" height="4" fill="#000"/>
<rect x="802" y="428" width="3" height="1" fill="#000"/>
<rect x="806" y="419" width="3" height="9" fill="#000"/>
<rect x="810" y="416" width="3" height="12" fill="#000"/>
<rect x="814" y="418" width="3" height="10" fill="#000"/>
<rect x="818" y="409" width="3" height="19" fill="#000"/>
<rect x="822" y="406" width="3" height="22" fill="#000"/>
</g>
<polyline points="2,425.8 10,425.6 20,425.3 28.7,424.7 35,423 40,422.2 46,424 53.6,425 60,425.3 65,426.8 70,428 75,428.9 80,428.7 87.3,426.2 99.8,423.5 108,421 119,414.5 128,411.5 140,412 150,416 165,422.5 175.5,423.7 190,427 200,433 216,444.5 233,460 250,471.5 260,479 266.6,481.7 271.6,481.4 280,479 291.5,474.8 303,469.8 313,462.8 321.4,456.5 328,453.2 336.3,453.7 346.3,454.5 353,454.9 364.5,449.9 369.5,447.4 376,445.2 382.8,443.2 394.4,441.6 406.6,439.9 416.6,439.6 425,441.6 433,449.9 441.5,466.5 449.8,481.4 458,489.7 466.4,493.9 474.7,496.3 479.7,496.3 486.3,492.2 496.3,483 506.2,473.1 514.5,468.5 521,466.5 532.8,459.8 544.4,453.2 551,450.2 555,452 560,460 566.6,473.2 573.2,486.5 580,490.6 588.2,497.3 596.5,505.6 603,513 607.3,515.5 611.4,515.5 616.4,512.2 621.4,505.6 626.3,499.8 631.3,495.6 638,494.8 649.6,496.4 657.9,495.6 666.2,491.8 672.8,489.8 681,487.3 687.8,483.2 694.4,475.7 699.4,466.6 706,458.3 709.3,456.3 715,453.6 721.6,455.3 733.2,455.3 739.8,451.4 747.5,446.1 756.4,437.8 766.4,431.2 774.7,430.4 783,427.9 788,429.5 794.6,432.9 803,433.7 807.9,429.5 814.5,422.9 822.8,415.4" fill="none" stroke="#ff0000" stroke-width="1" stroke-dasharray="3 3" class="c"/>
<g class="c">
<rect x="2" y="2" width="923" height="1" fill="#000"/>
<rect x="2" y="2" width="1" height="526" fill="#000"/>
<rect x="924" y="2" width="1" height="526" fill="#000"/>
<rect x="2" y="397" width="923" height="1" fill="#000"/>
<rect x="2" y="399" width="923" height="1" fill="#000"/>
<rect x="2" y="527" width="923" height="1" fill="#000"/>
<rect x="925" y="28" width="2" height="1" fill="#000"/>
<rect x="925" y="61" width="2" height="1" fill="#000"/>
<rect x="925" y="94" width="2" height="1" fill="#000"/>
<rect x="925" y="127" width="2" height="1" fill="#000"/>
<rect x="925" y="160" width="2" height="1" fill="#000"/>
<rect x="925" y="193" width="2" height="1" fill="#000"/>
<rect x="925" y="227" width="2" height="1" fill="#000"/>
<rect x="925" y="260" width="2" height="1" fill="#000"/>
<rect x="925" y="293" width="2" height="1" fill="#000"/>
<rect x="925" y="327" width="2" height="1" fill="#000"/>
<rect x="925" y="360" width="2" height="1" fill="#000"/>
<rect x="925" y="393" width="2" height="1" fill="#000"/>
<rect x="925" y="401" width="1" height="1" fill="#000"/>
<rect x="925" y="428" width="1" height="1" fill="#000"/>
<rect x="925" y="526" width="1" height="1" fill="#000"/>
<rect x="3" y="528" width="1" height="3" fill="#000"/>
<rect x="67" y="528" width="1" height="3" fill="#000"/>
<rect x="131" y="528" width="1" height="3" fill="#000"/>
<rect x="195" y="528" width="1" height="3" fill="#000"/>
<rect x="259" y="528" width="1" height="3" fill="#000"/>
<rect x="323" y="528" width="1" height="3" fill="#000"/>
<rect x="387" y="528" width="1" height="3" fill="#000"/>
<rect x="451" y="528" width="1" height="3" fill="#000"/>
<rect x="515" y="528" width="1" height="3" fill="#000"/>
<rect x="579" y="528" width="1" height="3" fill="#000"/>
<rect x="643" y="528" width="1" height="3" fill="#000"/>
<rect x="707" y="528" width="1" height="3" fill="#000"/>
<rect x="771" y="528" width="1" height="3" fill="#000"/>
</g>
<text x="930.42" y="31" textLength="27.69" lengthAdjust="spacingAndGlyphs" style="font-size:10px;fill:#000;stroke:#000;stroke-width:0.35px">1.6640</text>
<text x="930.42" y="64" textLength="27.81" lengthAdjust="spacingAndGlyphs" style="font-size:10px;fill:#000;stroke:#000;stroke-width:0.35px">1.6585</text>
<text x="930.42" y="97" textLength="27.69" lengthAdjust="spacingAndGlyphs" style="font-size:10px;fill:#000;stroke:#000;stroke-width:0.35px">1.6530</text>
<text x="930.42" y="130" textLength="27.81" lengthAdjust="spacingAndGlyphs" style="font-size:10px;fill:#000;stroke:#000;stroke-width:0.35px">1.6475</text>
<text x="930.42" y="163" textLength="27.69" lengthAdjust="spacingAndGlyphs" style="font-size:10px;fill:#000;stroke:#000;stroke-width:0.35px">1.6420</text>
<text x="930.42" y="196" textLength="27.81" lengthAdjust="spacingAndGlyphs" style="font-size:10px;fill:#000;stroke:#000;stroke-width:0.35px">1.6365</text>
<text x="930.42" y="230" textLength="27.69" lengthAdjust="spacingAndGlyphs" style="font-size:10px;fill:#000;stroke:#000;stroke-width:0.35px">1.6310</text>
<text x="930.42" y="263" textLength="27.81" lengthAdjust="spacingAndGlyphs" style="font-size:10px;fill:#000;stroke:#000;stroke-width:0.35px">1.6255</text>
<text x="930.42" y="296" textLength="27.69" lengthAdjust="spacingAndGlyphs" style="font-size:10px;fill:#000;stroke:#000;stroke-width:0.35px">1.6200</text>
<text x="930.42" y="330" textLength="27.81" lengthAdjust="spacingAndGlyphs" style="font-size:10px;fill:#000;stroke:#000;stroke-width:0.35px">1.6145</text>
<text x="930.42" y="363" textLength="27.69" lengthAdjust="spacingAndGlyphs" style="font-size:10px;fill:#000;stroke:#000;stroke-width:0.35px">1.6090</text>
<text x="930.42" y="396" textLength="27.81" lengthAdjust="spacingAndGlyphs" style="font-size:10px;fill:#000;stroke:#000;stroke-width:0.35px">1.6035</text>
<text x="928.06" y="410" textLength="33.00" lengthAdjust="spacingAndGlyphs" style="font-size:10px;fill:#000;stroke:#000;stroke-width:0.35px">0.00334</text>
<text x="928.05" y="431" textLength="18.07" lengthAdjust="spacingAndGlyphs" style="font-size:10px;fill:#000;stroke:#000;stroke-width:0.35px">0.00</text>
<text x="927.53" y="524" textLength="37.11" lengthAdjust="spacingAndGlyphs" style="font-size:10px;fill:#000;stroke:#000;stroke-width:0.35px">-0.01204</text>
<g class="c">
<rect x="926" y="19" width="36" height="11" fill="#ff0000"/>
<rect x="926" y="240" width="36" height="11" fill="#ff0000"/>
<rect x="926" y="267" width="36" height="11" fill="#ff0000"/>
<rect x="926" y="308" width="36" height="11" fill="#000"/>
<rect x="926" y="379" width="36" height="11" fill="#ff0000"/>
</g>
<rect x="3" y="5" width="198" height="11" fill="#fff"/>
<path d="M6 9 H13 L9.5 13 Z" fill="#000"/>
<text x="930.32" y="28" textLength="27.60" lengthAdjust="spacingAndGlyphs" style="font-size:10px;fill:#fff;stroke:#fff;stroke-width:0.35px">1.6645</text>
<text x="930.32" y="249" textLength="27.60" lengthAdjust="spacingAndGlyphs" style="font-size:10px;fill:#fff;stroke:#fff;stroke-width:0.35px">1.6279</text>
<text x="930.32" y="276" textLength="27.60" lengthAdjust="spacingAndGlyphs" style="font-size:10px;fill:#fff;stroke:#fff;stroke-width:0.35px">1.6233</text>
<text x="930.32" y="317" textLength="27.60" lengthAdjust="spacingAndGlyphs" style="font-size:10px;fill:#fff;stroke:#fff;stroke-width:0.35px">1.6167</text>
<text x="930.32" y="388" textLength="27.60" lengthAdjust="spacingAndGlyphs" style="font-size:10px;fill:#fff;stroke:#fff;stroke-width:0.35px">1.6048</text>
<text x="904.64" y="38" textLength="18.69" lengthAdjust="spacingAndGlyphs" style="font-size:10px;fill:#000;stroke:#000;stroke-width:0.35px">50.0</text>
<text x="904.64" y="119" textLength="18.82" lengthAdjust="spacingAndGlyphs" style="font-size:10px;fill:#000;stroke:#000;stroke-width:0.35px">38.2</text>
<text x="910.26" y="382" textLength="12.71" lengthAdjust="spacingAndGlyphs" style="font-size:10px;fill:#000;stroke:#000;stroke-width:0.35px">0.0</text>
<text x="17.83" y="14" textLength="54.28" lengthAdjust="spacingAndGlyphs" style="font-size:10px;fill:#000;stroke:#000;stroke-width:0.35px">GBPUSD,H1</text>
<text x="77.70" y="14" textLength="121.42" lengthAdjust="spacingAndGlyphs" style="font-size:10px;fill:#000;stroke:#000;stroke-width:0.35px">1.6174 1.6192 1.6156 1.6167</text>
<text x="6.46" y="412" textLength="61.58" lengthAdjust="spacingAndGlyphs" style="font-size:10px;fill:#000;stroke:#000;stroke-width:0.35px">MACD(5,34,5)</text>
<text x="71.27" y="412" textLength="32.08" lengthAdjust="spacingAndGlyphs" style="font-size:10px;fill:#000;stroke:#000;stroke-width:0.35px">0.00264</text>
<text x="107.15" y="412" textLength="33.34" lengthAdjust="spacingAndGlyphs" style="font-size:10px;fill:#000;stroke:#000;stroke-width:0.35px">0.00172</text>
<text x="6.66" y="523" textLength="248.48" lengthAdjust="spacingAndGlyphs" style="font-size:10px;fill:#000;stroke:#000;stroke-width:0.35px">MT4 TeleTrade, © 2001-2014, MetaQuotes Software Corp.</text>
<text x="1.83" y="540" textLength="53.15" lengthAdjust="spacingAndGlyphs" style="font-size:10px;fill:#000;stroke:#000;stroke-width:0.35px">29 Aug 2014</text>
<text x="65.52" y="540" textLength="56.92" lengthAdjust="spacingAndGlyphs" style="font-size:10px;fill:#000;stroke:#000;stroke-width:0.35px">29 Aug 20:00</text>
<text x="130.71" y="540" textLength="49.39" lengthAdjust="spacingAndGlyphs" style="font-size:10px;fill:#000;stroke:#000;stroke-width:0.35px">1 Sep 13:00</text>
<text x="193.74" y="540" textLength="49.97" lengthAdjust="spacingAndGlyphs" style="font-size:10px;fill:#000;stroke:#000;stroke-width:0.35px">2 Sep 05:00</text>
<text x="257.74" y="540" textLength="49.97" lengthAdjust="spacingAndGlyphs" style="font-size:10px;fill:#000;stroke:#000;stroke-width:0.35px">2 Sep 21:00</text>
<text x="321.85" y="540" textLength="49.85" lengthAdjust="spacingAndGlyphs" style="font-size:10px;fill:#000;stroke:#000;stroke-width:0.35px">3 Sep 13:00</text>
<text x="385.97" y="540" textLength="49.73" lengthAdjust="spacingAndGlyphs" style="font-size:10px;fill:#000;stroke:#000;stroke-width:0.35px">4 Sep 05:00</text>
<text x="449.97" y="540" textLength="49.73" lengthAdjust="spacingAndGlyphs" style="font-size:10px;fill:#000;stroke:#000;stroke-width:0.35px">4 Sep 21:00</text>
<text x="513.85" y="540" textLength="49.85" lengthAdjust="spacingAndGlyphs" style="font-size:10px;fill:#000;stroke:#000;stroke-width:0.35px">5 Sep 13:00</text>
<text x="577.74" y="540" textLength="49.97" lengthAdjust="spacingAndGlyphs" style="font-size:10px;fill:#000;stroke:#000;stroke-width:0.35px">8 Sep 06:00</text>
<text x="641.74" y="540" textLength="49.97" lengthAdjust="spacingAndGlyphs" style="font-size:10px;fill:#000;stroke:#000;stroke-width:0.35px">8 Sep 22:00</text>
<text x="705.74" y="540" textLength="49.97" lengthAdjust="spacingAndGlyphs" style="font-size:10px;fill:#000;stroke:#000;stroke-width:0.35px">9 Sep 14:00</text>
<text x="769.80" y="540" textLength="55.14" lengthAdjust="spacingAndGlyphs" style="font-size:10px;fill:#000;stroke:#000;stroke-width:0.35px">10 Sep 06:00</text>
</svg></body></html>
